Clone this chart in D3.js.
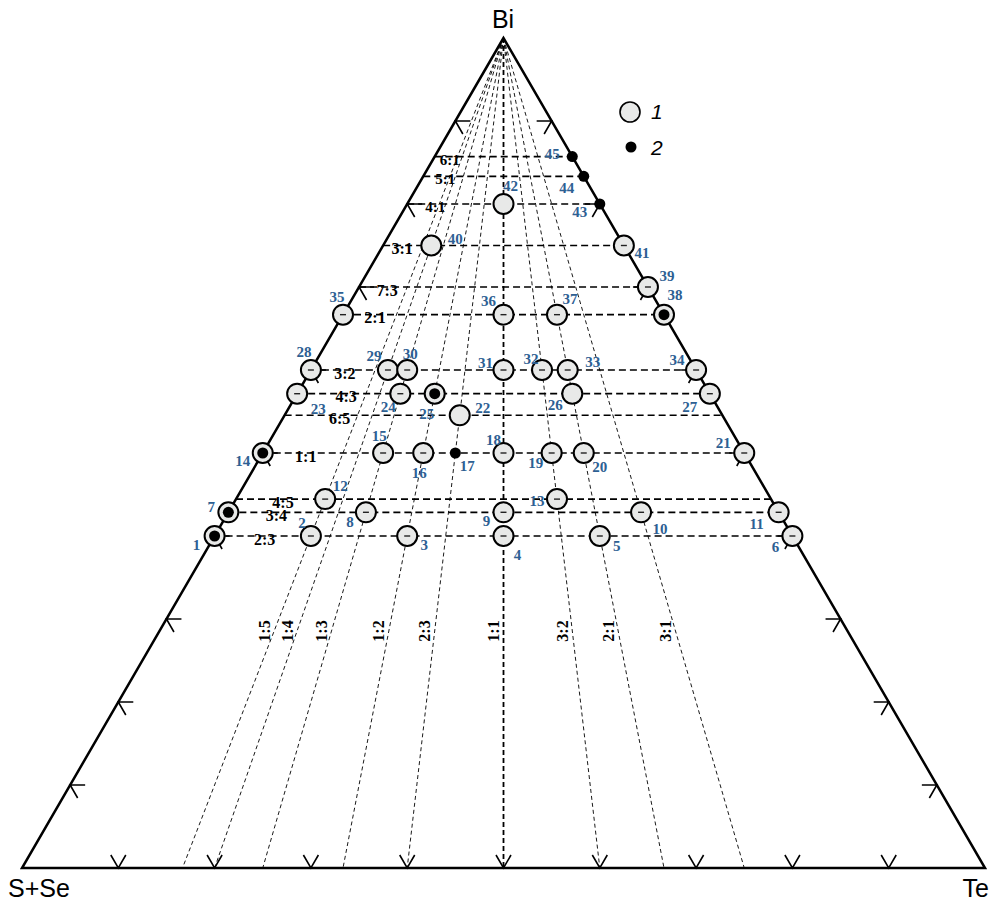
<!DOCTYPE html>
<html>
<head>
<meta charset="utf-8">
<script src="https://cdn.jsdelivr.net/npm/d3@7"></script>
<style>
  body { margin: 0; background: #fff; }
  svg { display: block; }
</style>
</head>
<body>
<div class="visHolder"></div>
<script>

// Bi : (S+Se+Te) ratios of the horizontal lines
let hRatios = ['6:1', '5:1', '4:1', '3:1', '7:3', '2:1', '3:2', '4:3', '6:5', '1:1', '4:5', '3:4', '2:3'];
// Te : (S+Se) ratios of the rays from the Bi corner
let rayRatios = ['1:5', '1:4', '1:3', '1:2', '2:3', '1:1', '3:2', '2:1', '3:1'];

// analysis points: number, Bi ratio, Te:(S+Se) ratio, kind (1 = circle, 2 = dot, 12 = both)
let pointNums = [1, 2, 3, 4, 5, 6, 7, 8, 9, 10, 11, 12, 13, 14, 15, 16, 17, 18, 19, 20, 21, 22, 23,
                 24, 25, 26, 27, 28, 29, 30, 31, 32, 33, 34, 35, 36, 37, 38, 39, 40, 41, 42, 43, 44, 45];
let pointBi = ['2:3', '2:3', '2:3', '2:3', '2:3', '2:3', '3:4', '3:4', '3:4', '3:4', '3:4', '4:5', '4:5',
               '1:1', '1:1', '1:1', '1:1', '1:1', '1:1', '1:1', '1:1', '6:5', '4:3', '4:3', '4:3', '4:3',
               '4:3', '3:2', '3:2', '3:2', '3:2', '3:2', '3:2', '3:2', '2:1', '2:1', '2:1', '2:1', '7:3',
               '3:1', '3:1', '4:1', '4:1', '5:1', '6:1'];
let pointTe = ['0:1', '1:5', '1:2', '1:1', '2:1', '1:0', '0:1', '1:3', '1:1', '3:1', '1:0', '1:5', '3:2',
               '0:1', '1:3', '1:2', '2:3', '1:1', '3:2', '2:1', '1:0', '2:3', '0:1', '1:3', '1:2', '2:1',
               '1:0', '0:1', '1:4', '1:3', '1:1', '3:2', '2:1', '1:0', '0:1', '1:1', '2:1', '1:0', '1:0',
               '1:4', '1:0', '1:1', '1:0', '1:0', '1:0'];
let pointKind = [12, 1, 1, 1, 1, 1, 12, 1, 1, 1, 1, 1, 1, 12, 1, 1, 2, 1, 1, 1, 1, 1, 1, 1, 12, 1, 1, 1,
                 1, 1, 1, 1, 1, 1, 1, 1, 1, 12, 1, 1, 1, 1, 2, 2, 2];

let ticks = [0.1, 0.2, 0.3, 0.4, 0.5, 0.6, 0.7, 0.8, 0.9];

// label placement (pixels)
let hLabelDx = [15, 22, 28, 19, 28, 32, 34, 49, 55, 43, 47, 48, 50];
let numDx = [-18, -9, 17, 14, 17, -17, -17, -16, -17, 19, -22, 15, -20, -20, -4, -4, 12, -10, -16, 16, -21,
             23, 21, -12, -8, -17, -20, -7, -14, 3, -18, -11, 25, -19, -6, -15, 13, 11, 19, 24, 18, 7, -20, -17, -20];
let numDy = [9, -13, 9, 19, 10, 11, -5, 10, 9, 17, 12, -13, 2, 8, -17, 20, 13, -13, 10, 14, -10, -7, 15,
             13, 20, 11, 13, -18, -14, -16, -7, -11, -8, -10, -18, -14, -16, -20, -11, -7, 7, -18, 8, 12, -3];
let noDash = [22, 26, 40, 42];

let width = 990;
let height = 904;

let svg = d3.select('.visHolder').append('svg')
  .attr('width', width)
  .attr('height', height);

let xScale = d3.scaleLinear().domain([0, 1]).range([22, 985]);
let yScale = d3.scaleLinear().domain([0, 1]).range([868, 38]);

function frac(r) {
  let p = r.split(':').map(Number);
  return p[0] / (p[0] + p[1]);
}

// b = Bi share, t = Te share
function proj(b, t) {
  return [xScale(t + b / 2), yScale(b)];
}

let serif = "'Liberation Serif', 'Times New Roman', serif";
let sans = "'Liberation Sans', Arial, sans-serif";

// rays from Bi
let rays = svg.append('g');
rayRatios.forEach((r) => {
  let te = frac(r);
  let a = proj(1, 0), e = proj(0, te);
  rays.append('line')
    .attr('x1', a[0]).attr('y1', a[1])
    .attr('x2', e[0]).attr('y2', e[1])
    .attr('stroke', '#000')
    .attr('stroke-width', r == '1:1' ? 1.8 : 0.9)
    .attr('stroke-dasharray', r == '1:1' ? '5,3' : '4,3');
  // label
  let ly = 631;
  let k = (ly - a[1]) / (e[1] - a[1]);
  let lx = a[0] + k * (e[0] - a[0]) - 10;
  rays.append('text')
    .attr('transform', 'translate(' + lx + ',' + ly + ') rotate(-90)')
    .attr('text-anchor', 'middle')
    .attr('dominant-baseline', 'central')
    .attr('font-family', serif)
    .attr('font-weight', 'bold')
    .attr('font-size', 16)
    .text(r);
});

// horizontal lines
let hl = svg.append('g');
hRatios.forEach((r, i) => {
  let b = frac(r);
  let a = proj(b, 0), e = proj(b, 1 - b);
  hl.append('line')
    .attr('x1', a[0]).attr('y1', a[1])
    .attr('x2', e[0]).attr('y2', e[1])
    .attr('stroke', '#000')
    .attr('stroke-width', 1.7)
    .attr('stroke-dasharray', '7,4');
  hl.append('text')
    .attr('x', a[0] + hLabelDx[i])
    .attr('y', a[1] + 3)
    .attr('text-anchor', 'middle')
    .attr('dominant-baseline', 'central')
    .attr('font-family', serif)
    .attr('font-weight', 'bold')
    .attr('font-size', i < 3 ? 15 : 16)
    .text(r);
});

// triangle
let corners = [proj(1, 0), proj(0, 0), proj(0, 1)];
svg.append('path')
  .attr('d', d3.line()(corners) + 'Z')
  .attr('fill', 'none')
  .attr('stroke', '#000')
  .attr('stroke-width', 2.5)
  .attr('stroke-linejoin', 'miter');

// edge ticks (open arrow heads)
let tk = svg.append('g').attr('stroke', '#000').attr('stroke-width', 1.6).attr('fill', 'none');
function tick(p, arms) {
  tk.append('path').attr('d', d3.line()([[p[0] + arms[0][0], p[1] + arms[0][1]], p, [p[0] + arms[1][0], p[1] + arms[1][1]]]));
}
ticks.forEach((v) => {
  tick(proj(0, v), [[-7.5, -13], [7.5, -13]]);
  tick(proj(v, 0), [[15, 0], [7.5, 13]]);
  tick(proj(v, 1 - v), [[-15, 0], [-7.5, 13]]);
});

// points
let pts = pointNums.map((n, i) => {
  let b = frac(pointBi[i]);
  let t = (1 - b) * frac(pointTe[i]);
  let p = proj(b, t);
  return { n: n, x: p[0], y: p[1], kind: pointKind[i], dx: numDx[i], dy: numDy[i] };
});

let pg = svg.append('g');
pts.forEach((d) => {
  if (d.kind != 2) {
    pg.append('circle')
      .attr('cx', d.x).attr('cy', d.y).attr('r', 10)
      .attr('fill', '#e8e9e8')
      .attr('stroke', '#000')
      .attr('stroke-width', 2);
    if (d.kind == 1 && noDash.indexOf(d.n) < 0) {
      pg.append('line')
        .attr('x1', d.x - 3).attr('x2', d.x + 3)
        .attr('y1', d.y).attr('y2', d.y)
        .attr('stroke', '#222').attr('stroke-width', 1.4);
    }
  }
  if (d.kind != 1) {
    pg.append('circle')
      .attr('cx', d.x).attr('cy', d.y).attr('r', 5.5)
      .attr('fill', '#000');
  }
  pg.append('text')
    .attr('x', d.x + d.dx)
    .attr('y', d.y + d.dy)
    .attr('text-anchor', 'middle')
    .attr('dominant-baseline', 'central')
    .attr('font-family', serif)
    .attr('font-weight', 'bold')
    .attr('font-size', 15)
    .attr('fill', '#2d6093')
    .text(d.n);
});

// corner titles
svg.append('text').attr('x', 503).attr('y', 28).attr('text-anchor', 'middle')
  .attr('font-family', sans).attr('font-size', 25).text('Bi');
svg.append('text').attr('x', 8).attr('y', 897)
  .attr('font-family', sans).attr('font-size', 25).text('S+Se');
svg.append('text').attr('x', 989).attr('y', 897).attr('text-anchor', 'end')
  .attr('font-family', sans).attr('font-size', 25).text('Te');

// legend
let lg = svg.append('g');
lg.append('circle').attr('cx', 630).attr('cy', 112).attr('r', 10)
  .attr('fill', '#e8e9e8').attr('stroke', '#000').attr('stroke-width', 1.6);
lg.append('circle').attr('cx', 631).attr('cy', 147).attr('r', 5.5).attr('fill', '#000');
lg.append('text').attr('x', 651).attr('y', 119).attr('font-family', sans)
  .attr('font-style', 'italic').attr('font-size', 21).text('1');
lg.append('text').attr('x', 651).attr('y', 155).attr('font-family', sans)
  .attr('font-style', 'italic').attr('font-size', 21).text('2');

</script>
</body>
</html>
